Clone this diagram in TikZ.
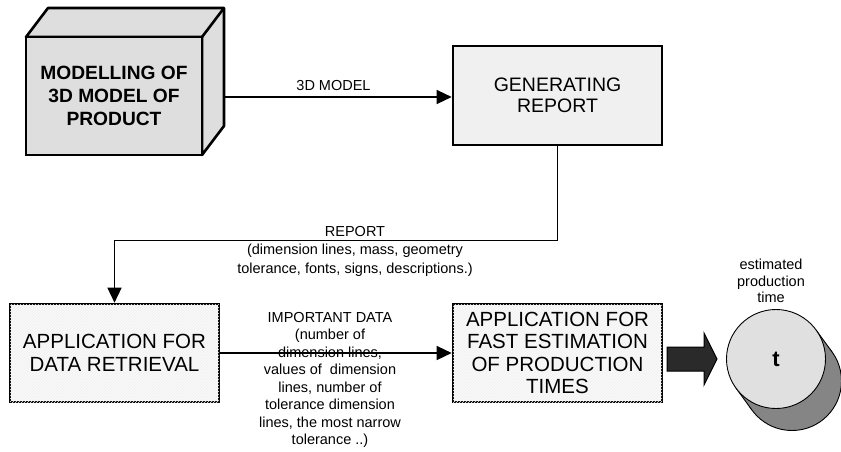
\documentclass[tikz,border=0pt]{standalone}
\usepackage{fontspec}
\setmainfont{Liberation Sans}
\usetikzlibrary{arrows.meta,patterns,calc}
\definecolor{cubegray}{HTML}{DEDEDE}
\definecolor{genfill}{HTML}{F0F0F0}
\definecolor{hatchfill}{HTML}{F9F9F9}
\definecolor{diskfront}{HTML}{E0E0E0}
\definecolor{diskback}{HTML}{858585}
\definecolor{bigarrow}{HTML}{2A2A2A}
\begin{document}
\begin{tikzpicture}[x=1pt,y=-1pt,
  conn/.style={line width=1.4pt},
  arr/.style={conn,-{Triangle[length=15pt,width=14pt]}},
  box/.style={draw,line width=2.6pt,inner sep=0pt,align=center,
    font=\fontsize{20.5}{23}\selectfont},
  hatchbox/.style={box,fill=hatchfill,postaction={pattern=north east lines,pattern color=gray!12}},
  lbl/.style={inner sep=0pt,align=center,font=\fontsize{14.5}{17.5}\selectfont},
]
\useasboundingbox (0,0) rectangle (841,451);

% 3D box (top and side faces)
\filldraw[fill=cubegray,line width=2.6pt,line join=round]
  (26,37) -- (48,8) -- (224,8) -- (224,126) -- (202,155) -- (202,37) -- cycle;
\draw[line width=2.6pt] (202,37) -- (224,8);
\node[box,fill=cubegray,minimum width=176,minimum height=118,
  font=\bfseries\fontsize{19.2}{23}\selectfont] (model) at (114,96)
  {MODELLING OF\\3D MODEL OF\\PRODUCT};
\coordinate (mside) at (224,97);

\node[box,fill=genfill,minimum width=209,minimum height=99,
  font=\fontsize{19.5}{21.5}\selectfont] (gen) at (557.5,95.5) {GENERATING\\REPORT};
\node[hatchbox,minimum width=209,minimum height=98] (data) at (114.5,353)
  {APPLICATION FOR\\DATA RETRIEVAL};
\node[hatchbox,minimum width=209,minimum height=98,
  font=\fontsize{20.5}{22.3}\selectfont] (fast) at (557.5,353)
  {APPLICATION FOR\\FAST ESTIMATION\\OF PRODUCTION\\TIMES};

% connectors
\draw[arr] (mside) -- (mside -| gen.west);
\draw[arr] (gen.south) -- ++(0,94) -| (data.north);
\draw[arr] (data.east) -- (fast.west);

% labels
\node[lbl,anchor=base] (l3d) at (333.5,90) {3D MODEL};
\node[lbl,font=\fontsize{14.5}{18.5}\selectfont] (lrep) at (355,251)
  {REPORT\\(dimension lines, mass, geometry\\tolerance, fonts, signs, descriptions.)};
\node[lbl] (limp) at (330,380)
  {IMPORTANT DATA\\(number of\\dimension lines,\\values of \ dimension\\lines, number of\\tolerance dimension\\lines, the most narrow\\tolerance ..)};
\node[lbl,font=\fontsize{14.5}{16.8}\selectfont] (lest) at (771,281)
  {estimated\\production\\time};

% big arrow
\filldraw[fill=bigarrow,draw=black,line width=1pt,line join=miter]
  (667,347) -- (704,347) -- (704,333) -- (717,359) -- (704,385) -- (704,371) -- (667,371) -- cycle;

% cylinder disk
\coordinate (B) at (792,381);
\coordinate (F) at (776,359);
\filldraw[fill=diskback,line width=0.9pt] (B) circle[radius=49.5];
\fill[diskback] ($(F)+(-40,29.1)$) -- ($(B)+(-40,29.1)$) -- ($(B)+(40,-29.1)$) -- ($(F)+(40,-29.1)$) -- cycle;
\draw[line width=0.9pt] ($(F)+(-40,29.1)$) -- ($(B)+(-40,29.1)$);
\draw[line width=0.9pt] ($(F)+(40,-29.1)$) -- ($(B)+(40,-29.1)$);
\node[circle,draw,line width=0.9pt,fill=diskfront,minimum size=99,inner sep=0pt,
  font=\bfseries\fontsize{22}{22}\selectfont] (disk) at (F) {t};
\end{tikzpicture}
\end{document}
